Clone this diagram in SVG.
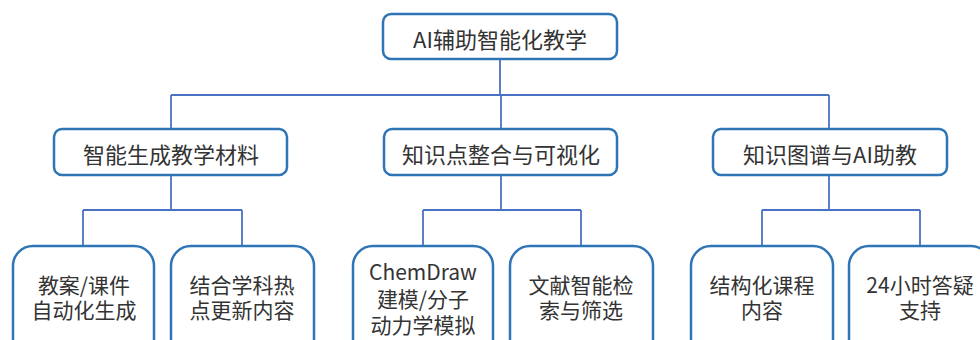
<svg xmlns="http://www.w3.org/2000/svg" width="980" height="340" viewBox="0 0 980 340">
<style>
.box{fill:#fff;stroke:#2E75B6;stroke-width:2.5}
.con{fill:none;stroke:#4A72C4;stroke-width:1.8}
text{font-family:"Noto Sans CJK SC","Microsoft YaHei",sans-serif;fill:#333;text-anchor:middle;dominant-baseline:central}
.t1{font-size:22px}
.t2{font-size:21px}
</style>
<rect width="980" height="340" fill="#fff"/>
<g id="connectors">
<path class="con" d="M500,59 V95 M171,95 H829 M171,95 V129 M501,95 V129 M829,95 V129"/>
<path class="con" d="M171,175 V210 M83,210 H242 M83,210 V246 M242,210 V246"/>
<path class="con" d="M501,175 V210 M423,210 H581 M423,210 V246 M581,210 V246"/>
<path class="con" d="M829,175 V210 M762,210 H920 M762,210 V246 M920,210 V246"/>
</g>
<g id="root">
<rect class="box" x="383" y="14" width="234" height="45" rx="8"/>
<text class="t1" x="500" y="38">AI辅助智能化教学</text>
</g>
<g id="n1">
<rect class="box" x="54" y="129" width="233" height="46" rx="8"/>
<text class="t1" x="171" y="153">智能生成教学材料</text>
</g>
<g id="n2">
<rect class="box" x="384" y="129" width="233" height="46" rx="8"/>
<text class="t1" x="501" y="153">知识点整合与可视化</text>
</g>
<g id="n3">
<rect class="box" x="713" y="129" width="234" height="46" rx="8"/>
<text class="t1" x="830" y="153">知识图谱与AI助教</text>
</g>
<g id="l1">
<rect class="box" x="13" y="246" width="141" height="130" rx="20"/>
<text class="t2" x="84" y="284">教案/课件</text>
<text class="t2" x="84" y="309">自动化生成</text>
</g>
<g id="l2">
<rect class="box" x="171" y="246" width="143" height="130" rx="20"/>
<text class="t2" x="242" y="284">结合学科热</text>
<text class="t2" x="242" y="309">点更新内容</text>
</g>
<g id="l3">
<rect class="box" x="353" y="246" width="140" height="130" rx="20"/>
<text class="t2" x="423" y="271">ChemDraw</text>
<text class="t2" x="423" y="298">建模/分子</text>
<text class="t2" x="423" y="324">动力学模拟</text>
</g>
<g id="l4">
<rect class="box" x="510" y="246" width="143" height="130" rx="20"/>
<text class="t2" x="581" y="284">文献智能检</text>
<text class="t2" x="581" y="309">索与筛选</text>
</g>
<g id="l5">
<rect class="box" x="691" y="246" width="142" height="130" rx="20"/>
<text class="t2" x="762" y="284">结构化课程</text>
<text class="t2" x="762" y="309">内容</text>
</g>
<g id="l6">
<rect class="box" x="849" y="246" width="142" height="130" rx="20"/>
<text class="t2" x="920" y="284">24小时答疑</text>
<text class="t2" x="920" y="309">支持</text>
</g>
</svg>
